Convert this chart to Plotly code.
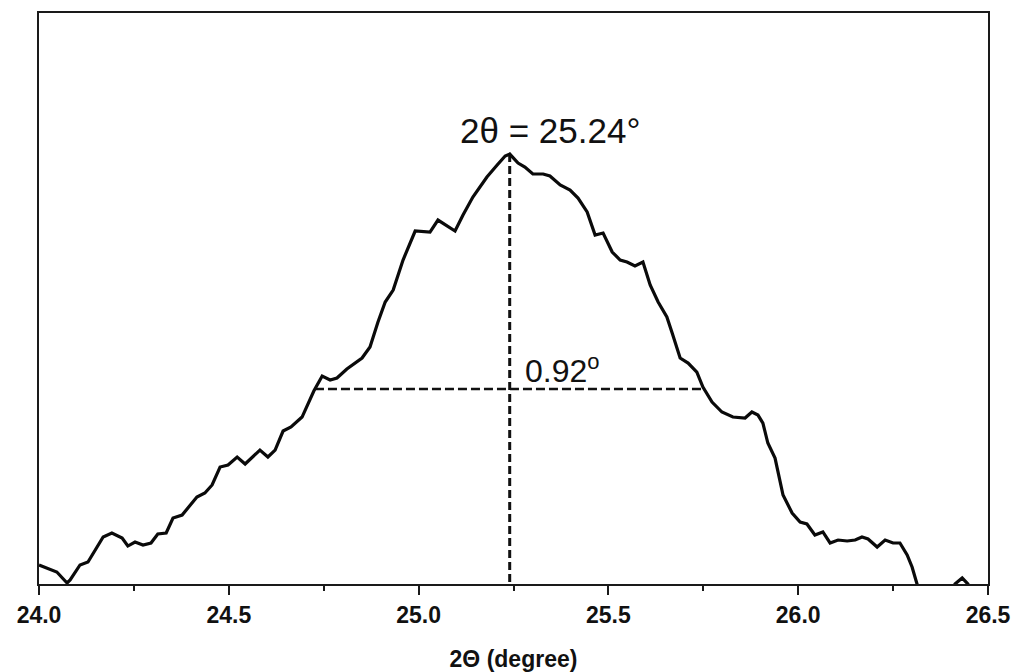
import plotly.graph_objects as go

# XRD peak profile (2-theta in degrees, intensity in arbitrary units)
two_theta = [
    24.000, 24.047, 24.074, 24.082, 24.108, 24.129, 24.169, 24.192, 24.219, 24.234,
    24.253, 24.274, 24.295, 24.313, 24.335, 24.353, 24.377, 24.416, 24.437, 24.456,
    24.477, 24.498, 24.522, 24.543, 24.582, 24.603, 24.622, 24.643, 24.664, 24.693,
    24.724, 24.746, 24.767, 24.785, 24.811, 24.827, 24.851, 24.872, 24.893, 24.912,
    24.933, 24.959, 24.991, 25.030, 25.051, 25.096, 25.117, 25.143, 25.180, 25.207,
    25.228, 25.240, 25.262, 25.280, 25.301, 25.328, 25.346, 25.373, 25.399, 25.420,
    25.444, 25.465, 25.486, 25.510, 25.531, 25.549, 25.570, 25.591, 25.610, 25.631,
    25.654, 25.668, 25.689, 25.710, 25.733, 25.749, 25.773, 25.799, 25.828, 25.860,
    25.878, 25.894, 25.907, 25.920, 25.939, 25.960, 25.984, 26.005, 26.023, 26.044,
    26.065, 26.084, 26.105, 26.129, 26.150, 26.168, 26.184, 26.208, 26.229, 26.250,
    26.268, 26.287, 26.300, 26.313, 26.334, 26.374, 26.400, 26.413, 26.432, 26.447,
    26.468, 26.500,
]
intensity = [
    3.33, 2.10, 0.18, 0.70, 3.33, 3.85, 8.23, 8.93, 8.05, 6.65,
    7.35, 6.83, 7.18, 8.76, 8.93, 11.56, 12.08, 15.23, 15.94, 17.34,
    20.49, 20.84, 22.24, 21.01, 23.46, 22.24, 23.46, 26.79, 27.49, 29.24,
    33.80, 36.42, 35.72, 36.07, 37.65, 38.35, 39.57, 41.50, 45.88, 49.38,
    51.48, 56.74, 61.82, 61.64, 63.74, 61.82, 64.62, 67.77, 71.27, 73.37,
    74.95, 75.30, 73.72, 73.02, 71.80, 71.80, 71.45, 69.87, 68.99, 67.59,
    65.15, 61.12, 61.47, 58.14, 56.74, 56.39, 55.69, 56.39, 52.36, 49.38,
    46.76, 43.95, 39.57, 38.70, 37.12, 34.50, 31.87, 30.12, 29.24, 29.07,
    30.12, 29.59, 28.19, 24.69, 22.06, 15.58, 12.43, 10.86, 10.51, 8.58,
    9.11, 7.18, 7.70, 7.53, 7.70, 8.23, 7.88, 6.48, 7.70, 7.18,
    7.18, 5.08, 2.98, 0.00, -3.15, -4.55, -2.10, 0.00, 1.05, 0.00,
    -2.80, -4.20,
]

# Guide lines: peak position and full width at half maximum
peak_line_x = [25.24, 25.24]
peak_line_y = [75.3, -1.0]
fwhm_line_x = [24.727, 25.749]
fwhm_line_y = [34.15, 34.15]

tick_vals = [24.0, 24.5, 25.0, 25.5, 26.0, 26.5]
tick_text = ["24.0", "24.5", "25.0", "25.5", "26.0", "26.5"]

peak_label = "2θ = 25.24°"
fwhm_label = "0.92<sup><span style='font-size:22px'>o</span></sup>"

FONT = "Liberation Sans, Arial, sans-serif"
AX = "#1a1a1a"

fig = go.Figure()
fig.add_trace(go.Scatter(x=peak_line_x, y=peak_line_y, mode="lines",
                         line=dict(color="#111111", width=3, dash="8px,4px"),
                         hoverinfo="skip", showlegend=False))
fig.add_trace(go.Scatter(x=fwhm_line_x, y=fwhm_line_y, mode="lines",
                         line=dict(color="#111111", width=2.4, dash="9px,4px"),
                         hoverinfo="skip", showlegend=False))
fig.add_trace(go.Scatter(x=two_theta, y=intensity, mode="lines",
                         line=dict(color="#0a0a0a", width=3.2),
                         showlegend=False))

fig.add_annotation(x=25.346, y=79.5, text=peak_label, showarrow=False,
                   xanchor="center", yanchor="middle",
                   font=dict(family=FONT, size=35, color="#111111"))
fig.add_annotation(x=25.275, y=37.6, text=fwhm_label, showarrow=False,
                   xanchor="left", yanchor="middle",
                   font=dict(family=FONT, size=32, color="#111111"))

fig.update_layout(
    width=1020, height=672,
    margin=dict(l=39, r=32, t=13, b=88, autoexpand=False),
    paper_bgcolor="white", plot_bgcolor="white",
    showlegend=False,
    font=dict(family=FONT, color="#111111"),
    xaxis=dict(
        range=[24.0, 26.5], tickmode="array", tickvals=tick_vals, ticktext=tick_text,
        ticks="outside", ticklen=9, tickwidth=2, tickcolor=AX,
        minor=dict(dtick=0.25, tick0=24.0, ticks="outside", ticklen=5, tickwidth=2, tickcolor=AX),
        showline=True, linecolor=AX, linewidth=2.2, mirror=True,
        showgrid=False, zeroline=False, automargin=False,
        tickfont=dict(family=FONT, size=23, color="#111111", weight="bold"),
        title=dict(text="2Θ (degree)", standoff=25,
                   font=dict(family=FONT, size=23, color="#111111", weight="bold")),
    ),
    yaxis=dict(
        range=[0, 100], showticklabels=False, ticks="",
        showline=True, linecolor=AX, linewidth=2.2, mirror=True,
        showgrid=False, zeroline=False, automargin=False,
    ),
)

fig.write_html("out.html")
